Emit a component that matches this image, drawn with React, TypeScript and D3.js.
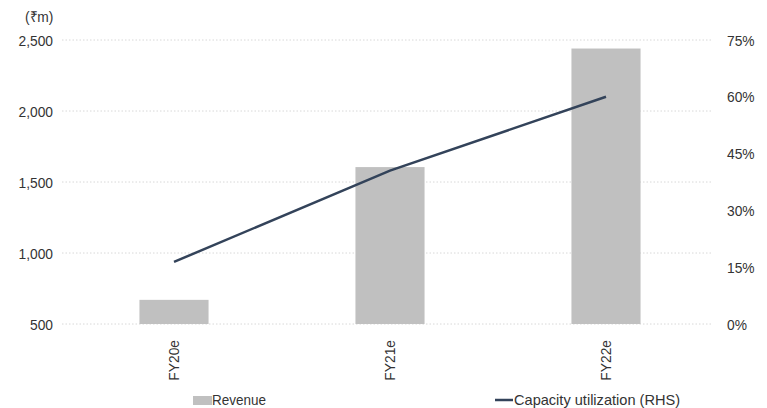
import React from "react";
import * as d3 from "d3";

const categories = ["FY20e", "FY21e", "FY22e"];
const revenue = [670, 1605, 2440];
const capacityUtil = [16.4, 40.5, 60];
const leftTicks = [500, 1000, 1500, 2000, 2500];
const rightTicks = [0, 15, 30, 45, 60, 75];

const W = 767;
const H = 408;
const FONT = "'Liberation Sans', Arial, sans-serif";
const TEXT = "#333333";
const SX = 0.92;

type TProps = {
  x: number;
  y: number;
  anchor?: "start" | "middle" | "end";
  size?: number;
  rotate?: number;
  children: React.ReactNode;
};

// Text drawn with a slight horizontal squeeze to get a narrow face.
function T({ x, y, anchor = "start", size = 15, rotate = 0, children }: TProps) {
  return (
    <text
      transform={`translate(${x},${y}) rotate(${rotate}) scale(${SX},1)`}
      textAnchor={anchor}
      fontSize={size}
    >
      {children}
    </text>
  );
}

export default function App() {
  const x = d3.scaleBand<string>().domain(categories).range([66, 714]).paddingInner(0.68).paddingOuter(0.34);
  const yL = d3.scaleLinear().domain([500, 2500]).range([324, 40]);
  const yR = d3.scaleLinear().domain([0, 75]).range([324, 40]);

  const line = d3
    .line<number>()
    .x((_, i) => (x(categories[i]) as number) + x.bandwidth() / 2)
    .y((d) => yR(d));

  return (
    <svg width={W} height={H} style={{ position: "absolute", left: 0, top: 0, background: "#fff" }}>
      <g fontFamily={FONT} fill={TEXT}>
        <T x={25} y={22}>(₹m)</T>

        {leftTicks.map((t) => (
          <g key={t}>
            <line x1={62} x2={712} y1={yL(t)} y2={yL(t)} stroke="#d8d8d8" strokeDasharray="1.5,2" />
            <T x={53} y={yL(t) + 5.5} anchor="end">
              {d3.format(",")(t)}
            </T>
          </g>
        ))}

        {rightTicks.map((t) => (
          <T key={t} x={727} y={yR(t) + 5.5}>
            {t}%
          </T>
        ))}

        {categories.map((c, i) => (
          <rect
            key={c}
            x={x(c)}
            width={x.bandwidth()}
            y={yL(revenue[i])}
            height={yL(500) - yL(revenue[i])}
            fill="#c0c0c0"
          />
        ))}

        <path d={line(capacityUtil) || ""} fill="none" stroke="#33435a" strokeWidth={2.5} />

        {categories.map((c) => {
          const cx = (x(c) as number) + x.bandwidth() / 2;
          return (
            <T key={c} x={cx + 5} y={340} anchor="end" rotate={-90}>
              {c}
            </T>
          );
        })}

        <rect x={193} y={396} width={19} height={9} fill="#c0c0c0" />
        <text x={212} y={405} fontSize={15} textLength={54} lengthAdjust="spacingAndGlyphs">
          Revenue
        </text>
        <line x1={495} x2={513} y1={400} y2={400} stroke="#33435a" strokeWidth={2.5} />
        <text x={514} y={405} fontSize={15} textLength={166} lengthAdjust="spacingAndGlyphs">
          Capacity utilization (RHS)
        </text>
      </g>
    </svg>
  );
}
